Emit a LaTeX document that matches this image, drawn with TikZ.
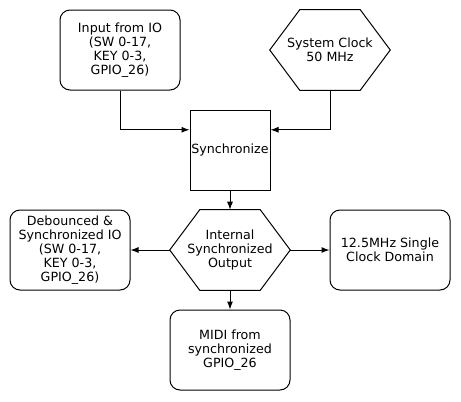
\documentclass[tikz,border=0pt]{standalone}
\usepackage{fontspec}
\setmainfont{DejaVu Sans}
\usetikzlibrary{calc,arrows.meta}
\begin{document}
\begin{tikzpicture}[x=0.75pt,y=-0.75pt,
  lbl/.style={font=\fontsize{9.5pt}{10.5pt}\selectfont, align=center, inner sep=0pt},
  rbox/.style={lbl, draw, line width=0.75pt, rounded corners=7.5pt, minimum width=90pt, minimum height=60pt},
  sqbox/.style={lbl, draw, line width=0.75pt, minimum width=60pt, minimum height=60pt},
  hexarea/.style={lbl, minimum width=90pt, minimum height=60pt},
  hexline/.style={line width=0.75pt, line join=miter},
  arr/.style={line width=0.75pt, -{Latex[length=6pt,width=4.5pt]}}]
\useasboundingbox (0,0) rectangle (461,401);
\fill[white] (0,0) rectangle (461,401);

\node[rbox] (in) at (120,50) {Input from IO\\(SW 0-17,\\KEY 0-3,\\GPIO\_26)};
\node[hexarea] (clk) at (330,50) {System Clock\\50 MHz};
\node[sqbox] (sync) at (230,150) {Synchronize};
\node[hexarea] (mid) at (230,250) {Internal\\Synchronized\\Output};
\node[rbox] (deb) at (70,250) {Debounced \&\\Synchronized IO\\(SW 0-17,\\KEY 0-3,\\GPIO\_26)};
\node[rbox] (dom) at (390,250) {12.5MHz Single\\Clock Domain};
\node[rbox] (midi) at (230,350) {MIDI from\\synchronized\\GPIO\_26};

\foreach \h in {clk,mid}{
  \draw[hexline] ([xshift=22.5pt]\h.north west) -- ([xshift=-22.5pt]\h.north east) -- (\h.east)
    -- ([xshift=-22.5pt]\h.south east) -- ([xshift=22.5pt]\h.south west) -- (\h.west) -- cycle;
}

\draw[arr] (in.south) |- ($(sync.north west)!0.25!(sync.south west)$);
\draw[arr] (clk.south) |- ($(sync.north east)!0.25!(sync.south east)$);
\draw[arr] (sync.south) -- (mid.north);
\draw[arr] (mid.west) -- (deb.east);
\draw[arr] (mid.east) -- (dom.west);
\draw[arr] (mid.south) -- (midi.north);
\end{tikzpicture}
\end{document}
